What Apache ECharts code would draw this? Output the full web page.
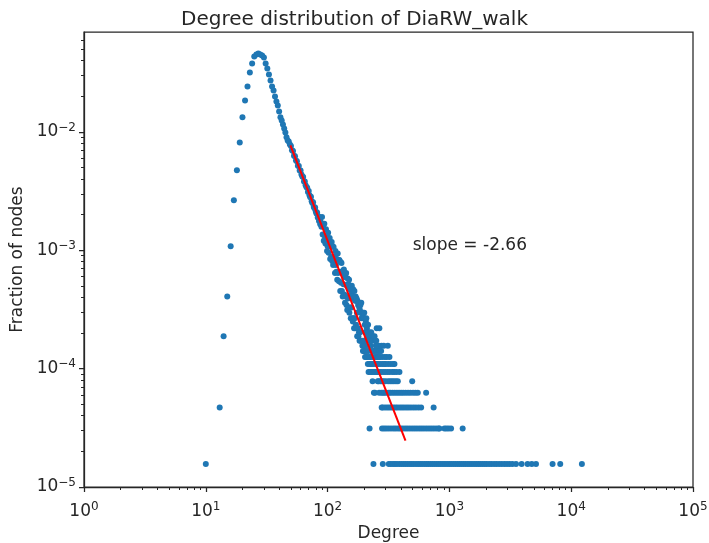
<!DOCTYPE html>
<html><head><meta charset="utf-8">
<script src="https://cdn.jsdelivr.net/npm/echarts@6/dist/echarts.min.js"></script>
<style>html,body{margin:0;padding:0;background:#fff}#c{width:709px;height:543px}</style>
</head><body><div id="c"></div>
<script>
const titleText = 'Degree distribution of DiaRW_walk';
const xName = 'Degree';
const yName = 'Fraction of nodes';
const totalNodes = 63940;

// number of nodes per degree, consecutive degrees starting at headStartDegree (0 = none)
const headStartDegree = 10;
const headCounts = [
  1, 0, 0, 3, 12, 26, 69, 169, 303, 521,
  848, 1180, 1548, 2031, 2420, 2773, 2882, 2937, 2882, 2827,
  2720, 2420, 2196, 1954, 1739, 1548, 1432, 1274, 1157, 1070,
  952, 848, 799, 740, 684, 633, 575, 542, 530, 500,
  486, 447, 441, 402, 398, 366, 362, 331, 329, 302,
  301, 279, 268, 266, 244, 243, 226, 219, 216, 199,
  202, 186, 179, 181, 166, 160, 163, 149, 145, 147,
  136, 131, 133, 121, 124, 113, 117, 106, 110, 101,
  122, 87, 103, 77, 107, 84, 73, 96, 84, 63,
  69, 90, 61, 78, 81, 54, 69, 56, 75, 52,
  69, 48, 68, 50, 57, 41, 63, 48, 42, 54,
  36, 60, 41, 53, 35, 53, 42, 29, 51, 34,
  50, 29, 41, 26, 43, 33, 44, 27, 38, 23,
  40, 26, 41, 22, 32, 20, 37, 25, 33, 21,
  36, 19, 30, 21, 32, 17, 27, 21, 32, 17,
  29, 16, 30, 17, 25, 14, 29, 17, 24, 14,
  26, 15, 24, 25, 19, 12, 24, 14, 22, 12,
  23, 13, 21, 11, 20, 13, 22, 11, 19, 23,
  17, 11, 19, 10, 18, 9, 19, 11, 17, 9,
  19, 9, 15, 8, 13, 10, 16, 8, 17, 9,
  14, 12, 8, 11, 7, 15, 9, 6, 13, 8,
  12, 2, 7, 11, 6, 8, 10, 7, 13, 6,
  9, 7, 11, 8, 5, 6, 12, 7, 1, 9, 4
];

// tail: degrees having a given number of nodes
const tail14 = [253, 266];
const tail12 = [243];
const tail11 = [247, 251];
const tail10 = [249, 256, 264, 277, 289, 312];
const tail9 = [242, 252, 260, 268, 275];
const tail8 = [244, 250, 257, 263, 270, 281, 295, 306, 322];
const tail7 = [248, 255, 261, 272, 283, 292, 301, 315, 330, 345, 354];
const tail6 = [241, 246, 254, 259, 267, 274, 286, 297, 310, 323, 340, 352, 368, 389];
const tail5 = [258, 262, 271, 279, 288, 299, 314, 326, 338, 350, 364, 377, 495];
const tail4 = [245, 265, 276, 285, 293, 304, 318, 328, 342, 356, 371, 386, 402, 418, 437, 458, 479, 503, 526, 550, 644];
const tail3 = [278, 284, 296, 308, 320, 333, 347, 361, 375, 392, 408, 425, 444, 463, 484, 507, 531, 558, 586, 742];
const tail2 = [280, 291, 303, 317, 332, 348, 363, 380, 396, 413, 432, 451, 472, 494, 517, 541, 566, 592, 619, 648,
  678, 709, 742, 777, 812, 828, 910, 946, 985, 1032, 1285];
const tail1 = [284, 318, 331, 345, 358, 372, 389, 405, 421, 437, 455, 474, 492, 511, 533, 554, 576, 598, 623, 648,
  673, 701, 728, 757, 788, 820, 851, 886, 921, 958, 997, 1036, 1078, 1121, 1167, 1213, 1262, 1311, 1364, 1420,
  1477, 1535, 1597, 1662, 1729, 1797, 1870, 1946, 2024, 2118, 2215, 2327, 2436, 2561, 2689, 2830, 2970, 3118,
  3289, 3523, 3917, 4385, 4741, 5139, 7031, 8128, 12240];

// fitted power law line (end points)
const fitDegrees = [49.5, 436];
const fitFractions = [7.69e-3, 2.46e-5];
const slopeText = 'slope = -2.66';
const slopeAnchorDegree = 500;
const slopeAnchorFraction = 1.1e-3;

const xTicks = [1, 10, 100, 1000, 10000, 100000];
const yTicks = [1e-5, 1e-4, 1e-3, 1e-2];

// ---- build ----
const points = [];
headCounts.forEach((c, i) => { if (c > 0) points.push([headStartDegree + i, c / totalNodes]); });
[[1, tail1], [2, tail2], [3, tail3], [4, tail4], [5, tail5], [6, tail6], [7, tail7], [8, tail8],
 [9, tail9], [10, tail10], [11, tail11], [12, tail12], [14, tail14]].forEach(([c, arr]) => {
  arr.forEach(d => points.push([d, c / totalNodes]));
});
const fitLine = fitDegrees.map((d, i) => [d, fitFractions[i]]);

const FONT = 'DejaVu Sans';
const INK = '#262626';
function pow10Label(v) {
  const e = Math.round(Math.log10(v));
  if (Math.abs(Math.log10(v) - e) > 1e-6) return '';
  const s = e < 0 ? '\u2212' + (-e) : '' + e;
  return '{b|10}{s|' + s + '}';
}
const rich = {
  b: { fontSize: 17, fontFamily: FONT, color: INK },
  s: { fontSize: 12, fontFamily: FONT, color: INK, padding: [0, 0, 9, 0] }
};
function axisCommon() {
  return {
    type: 'log', logBase: 10,
    axisLine: { show: true, lineStyle: { color: INK, width: 1.25 } },
    minorTick: { show: true, splitNumber: 9, length: 3, lineStyle: { color: INK, width: 1 } },
    splitLine: { show: false },
    minorSplitLine: { show: false },
    nameLocation: 'middle',
    nameTextStyle: { fontSize: 17, fontFamily: FONT, color: INK }
  };
}

const chart = echarts.init(document.getElementById('c'), null, { renderer: 'canvas' });
chart.setOption({
  animation: false,
  backgroundColor: '#ffffff',
  title: {
    text: titleText, left: 'center', top: 5,
    textStyle: { fontSize: 20, fontWeight: 'normal', fontFamily: FONT, color: INK }
  },
  grid: { left: 84, right: 16, top: 32, bottom: 56, show: true, borderColor: INK, borderWidth: 1.25,
    backgroundColor: 'transparent', containLabel: false, outerBoundsMode: 'none' },
  xAxis: Object.assign(axisCommon(), {
    min: 1, max: 100000, name: xName, nameGap: 36,
    axisTick: { show: true, length: 5, lineStyle: { color: INK, width: 1.25 }, customValues: xTicks },
    axisLabel: { margin: 14, formatter: pow10Label, rich: rich, customValues: xTicks }
  }),
  yAxis: Object.assign(axisCommon(), {
    min: 1e-5, max: 0.0698, name: yName, nameGap: 58,
    axisTick: { show: true, length: 5, lineStyle: { color: INK, width: 1.25 }, customValues: yTicks },
    axisLabel: { margin: 8, formatter: pow10Label, rich: rich, customValues: yTicks }
  }),
  series: [
    {
      type: 'scatter', data: points, symbolSize: 6,
      itemStyle: { color: '#1f77b4', opacity: 1 }, silent: true, z: 2
    },
    {
      type: 'line', data: fitLine, showSymbol: false, symbol: 'none',
      lineStyle: { color: '#ff0000', width: 2 }, silent: true, z: 3
    }
  ]
});
const anchor = chart.convertToPixel({ gridIndex: 0 }, [slopeAnchorDegree, slopeAnchorFraction]);
chart.setOption({
  graphic: [{
    type: 'text', x: anchor[0], y: anchor[1], silent: true, z: 10,
    style: { text: slopeText, fontSize: 17, fontFamily: FONT, fill: INK, align: 'left', verticalAlign: 'middle' }
  }]
});
</script>
</body></html>
